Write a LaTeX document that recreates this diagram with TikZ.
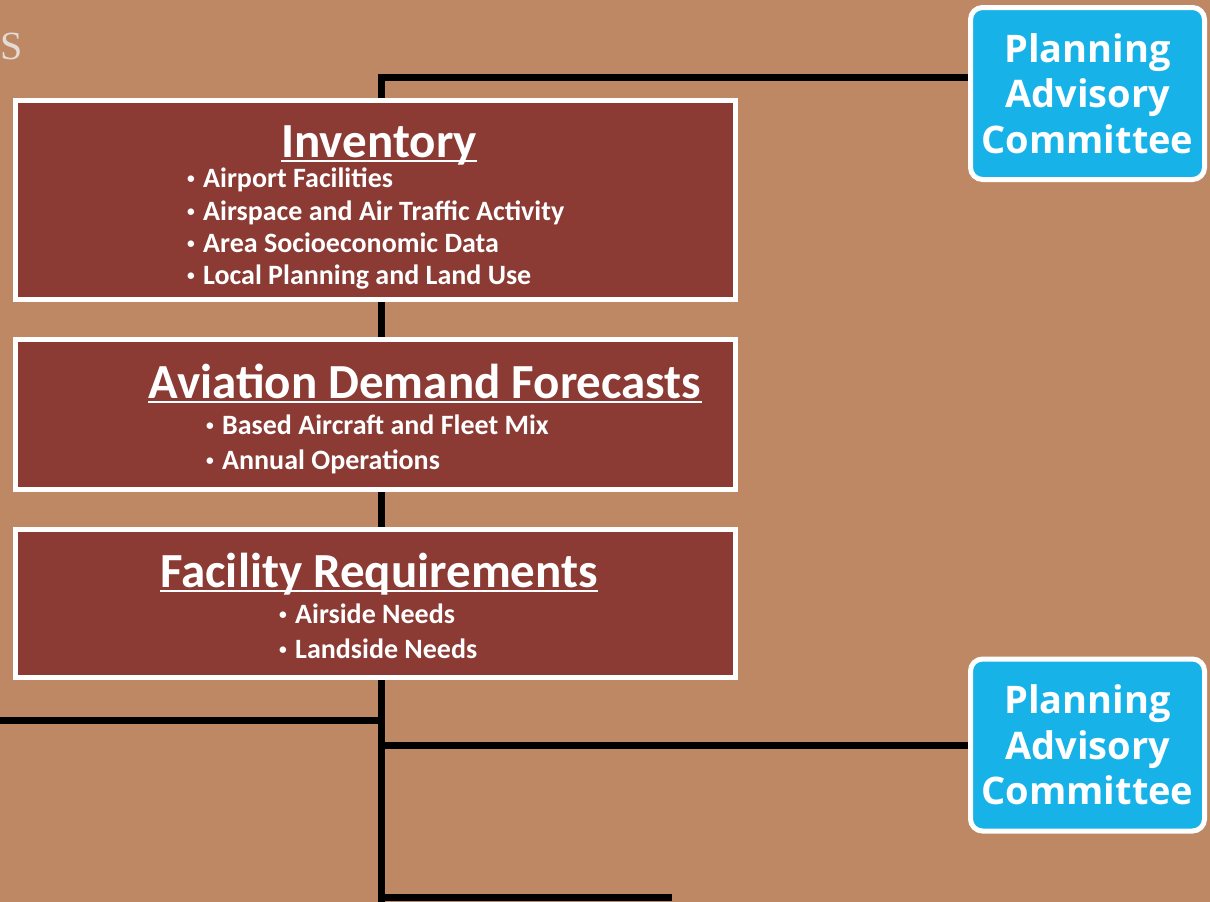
\documentclass[tikz,border=0pt]{standalone}
\usepackage{fontspec}
\setmainfont{Carlito}
\newfontfamily\pacfont{Open Sans}
\newfontfamily\headfont{Liberation Serif}
\usetikzlibrary{positioning}
\definecolor{paper}{RGB}{190,136,100}
\definecolor{stagered}{RGB}{139,58,52}
\definecolor{pacblue}{RGB}{22,178,232}
\definecolor{headgray}{RGB}{228,220,212}
\newcommand{\itm}{\makebox[16pt][l]{\raisebox{4pt}{\scalebox{0.55}{\textbullet}}}}
\tikzset{
  stage/.style={draw=white, line width=5pt, fill=stagered, inner sep=0pt},
  pac/.style={draw=white, line width=5pt, fill=pacblue, rounded corners=12pt,
    minimum width=234pt, minimum height=172pt, text=white, align=center,
    font=\pacfont\bfseries\fontsize{38}{45.5}\selectfont},
  title/.style={text=white, inner sep=0pt, font=\bfseries\fontsize{49}{52}\selectfont},
  items/.style={text=white, inner sep=0pt, align=left, anchor=north west},
  spine/.style={line width=7pt, black, line join=miter}
}
\begin{document}
\begin{tikzpicture}[x=1pt,y=-1pt]
  \fill[paper] (0,0) rectangle (1210,902);
  \useasboundingbox (0,0) rectangle (1210,902);
  \node[text=headgray, anchor=base west, inner sep=0pt, font=\headfont\fontsize{40}{40}\selectfont] (head) at (0,59) {S};

  \coordinate (jtop) at (381,77);
  \coordinate (jleft) at (0,720);
  \coordinate (jbot) at (672,897);
  \coordinate (jend) at (381,902);

  \node[pac] (pac1) at (1087.5,93.5) {Planning\\Advisory\\Committee};
  \node[pac] (pac2) at (1087.5,745) {Planning\\Advisory\\Committee};

  \draw[spine] (pac1.west |- jtop) -- (jtop) -- (jend);
  \draw[spine] (jleft) -- (jleft -| jtop);
  \draw[spine] (jtop |- pac2.west) -- (pac2.west);
  \draw[spine] (jbot -| jtop) -- (jbot);

  \node[stage, minimum width=720pt, minimum height=199pt] (inv) at (375.5,200) {};
  \node[stage, minimum width=720pt, minimum height=150pt] (adf) at (375.5,414.5) {};
  \node[stage, minimum width=720pt, minimum height=148pt] (fr) at (375.5,603.5) {};

  \node[title, anchor=base] (invtitle) at (379,157) {Inventory};
  \node[title, anchor=base] (adftitle) at (425,398) {Aviation Demand Forecasts};
  \node[title, anchor=base] (frtitle) at (379,587) {Facility Requirements};
  \foreach \t in {invtitle,adftitle,frtitle}
    \draw[white, line width=2pt] ([yshift=-4pt]\t.base west) -- ([yshift=-4pt]\t.base east);

  \node[items, font=\bfseries\fontsize{28}{32.3}\selectfont] (invlist) at (187,168)
    {\itm Airport Facilities\\ \itm Airspace and Air Traffic Activity\\
     \itm Area Socioeconomic Data\\ \itm Local Planning and Land Use};
  \node[items, font=\bfseries\fontsize{28}{35}\selectfont] (adflist) at (206,415)
    {\itm Based Aircraft and Fleet Mix\\ \itm Annual Operations};
  \node[items, font=\bfseries\fontsize{28}{35}\selectfont] (frlist) at (279,604)
    {\itm Airside Needs\\ \itm Landside Needs};
\end{tikzpicture}
\end{document}
